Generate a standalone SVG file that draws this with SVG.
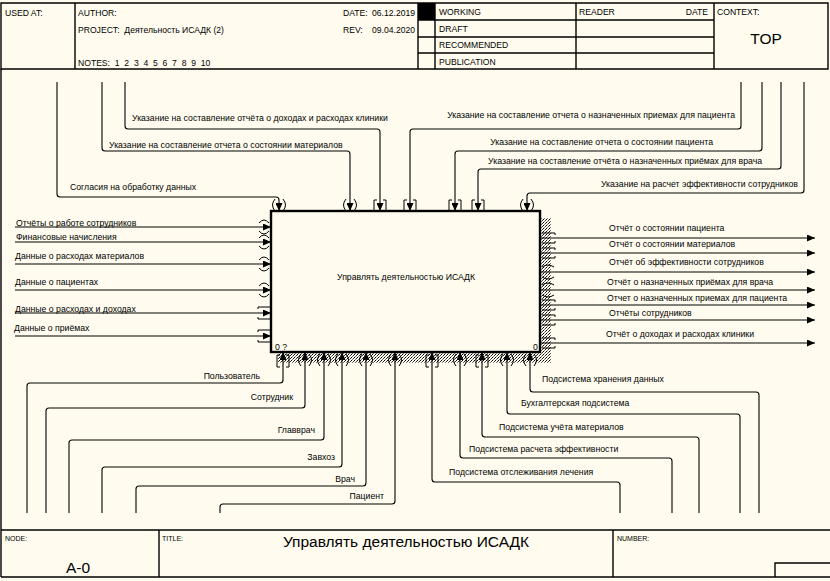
<svg xmlns="http://www.w3.org/2000/svg" width="830" height="581" viewBox="0 0 830 581">
<style>
text{font-family:"Liberation Sans",Arial,sans-serif;fill:#000}
.lbl{font-size:8.7px}
.hd{font-size:8.6px}
.sm{font-size:7px}
.frame{fill:none;stroke:#000;stroke-width:1.4}
.ln{fill:none;stroke:#000;stroke-width:1.1}
.tn{fill:none;stroke:#000;stroke-width:1}
</style>
<defs>
<marker id="ah" viewBox="0 0 8 7" refX="8" refY="3.5" markerWidth="8" markerHeight="7" markerUnits="userSpaceOnUse" orient="auto"><path d="M0,0 L8,3.5 L0,7 z" fill="#000"/></marker>
<pattern id="dots" width="3" height="3" patternUnits="userSpaceOnUse"><rect x="0" y="0" width="1" height="1" fill="#000"/><rect x="2" y="1" width="1" height="1" fill="#333"/><rect x="1" y="2" width="1" height="1" fill="#777"/></pattern>
</defs>
<rect width="830" height="581" fill="#FFFCEF"/>
<g id="header">
<path class="frame" d="M1,3 H828 V69 H1 Z M75,3 V69 M418,3 V69 M435,3 V69 M576,3 V69 M714,3 V69 M418,20 H714 M418,37 H714 M418,53 H714"/>
<rect x="418" y="3" width="17" height="17" fill="#000"/>
<text class="hd" x="5" y="16">USED AT:</text>
<text class="hd" x="78" y="16">AUTHOR:</text>
<text class="hd" x="78" y="33">PROJECT:&#160; Деятельность ИСАДК (2)</text>
<text class="hd" x="78" y="66">NOTES:&#160; 1&#160; 2&#160; 3&#160; 4&#160; 5&#160; 6&#160; 7&#160; 8&#160; 9&#160; 10</text>
<text class="hd" x="343" y="16">DATE:</text>
<text class="hd" x="372" y="16">06.12.2019</text>
<text class="hd" x="343" y="33">REV:</text>
<text class="hd" x="372" y="33">09.04.2020</text>
<text class="hd" x="439" y="15">WORKING</text>
<text class="hd" x="439" y="32">DRAFT</text>
<text class="hd" x="439" y="48">RECOMMENDED</text>
<text class="hd" x="439" y="65">PUBLICATION</text>
<text class="hd" x="579" y="15">READER</text>
<text class="hd" x="708" y="15" text-anchor="end">DATE</text>
<text class="hd" x="717" y="15">CONTEXT:</text>
<text x="766" y="44" font-size="15.5" text-anchor="middle">TOP</text>
</g>
<g id="border">
<path class="frame" d="M1,69 V577"/>
</g>
<g id="footer">
<path class="frame" d="M1,530 H830 M1,577 H830 M159,530 V577 M613,530 V577 M775,577 V563 H830"/>
<text class="sm" x="5" y="541">NODE:</text>
<text class="sm" x="162" y="541">TITLE:</text>
<text class="sm" x="617" y="541">NUMBER:</text>
<text x="406" y="547" font-size="15.5" text-anchor="middle">Управлять деятельностью ИСАДК</text>
<text x="78" y="573" font-size="15.5" text-anchor="middle">A-0</text>
</g>
<g id="node-A0">
<rect x="541" y="218" width="10" height="145" fill="url(#dots)"/>
<rect x="278" y="353" width="273" height="10" fill="url(#dots)"/>
<rect x="271" y="211" width="269" height="141" fill="#FFFCEF" stroke="#000" stroke-width="2.4"/>
<text class="lbl" x="406" y="280" text-anchor="middle">Управлять деятельностью ИСАДК</text>
<text class="lbl" x="275" y="350">0 ?</text>
<text class="lbl" x="533" y="350">0</text>
</g>
<g id="connectors">
<path class="ln" marker-end="url(#ah)" d="M57,82 V194 Q57,197 60,197 H276 Q279,197 279,200 V211"/>
<path class="ln" marker-end="url(#ah)" d="M102,82 V148 Q102,151 105,151 H347 Q350,151 350,154 V211"/>
<path class="ln" marker-end="url(#ah)" d="M125,82 V126 Q125,129 128,129 H377 Q380,129 380,132 V211"/>
<path class="ln" marker-end="url(#ah)" d="M741,82 V126 Q741,129 738,129 H413 Q410,129 410,132 V211"/>
<path class="ln" marker-end="url(#ah)" d="M762,82 V148 Q762,151 759,151 H458 Q455,151 455,154 V211"/>
<path class="ln" marker-end="url(#ah)" d="M781,82 V166 Q781,169 778,169 H481 Q478,169 478,172 V211"/>
<path class="ln" marker-end="url(#ah)" d="M804,82 V190 Q804,193 801,193 H530 Q527,193 527,196 V211"/>
<path class="tn" d="M275,199 Q270,205 275,211 M283,199 Q288,205 283,211 M346,199 Q341,205 346,211 M354,199 Q359,205 354,211 M523,199 Q518,205 523,211 M531,199 Q536,205 531,211"/>
<path class="tn" d="M377,200 H374 V211 H377 M383,200 H386 V211 H383 M407,200 H404 V211 H407 M413,200 H416 V211 H413 M452,200 H449 V211 H452 M458,200 H461 V211 H458 M475,200 H472 V211 H475 M481,200 H484 V211 H481"/>
<text class="lbl" x="70" y="190">Согласия на обработку данных</text>
<text class="lbl" x="109" y="148">Указание на составление отчета о состоянии материалов</text>
<text class="lbl" x="132" y="121">Указание на составление отчёта о доходах и расходах клиники</text>
<text class="lbl" x="735" y="118" text-anchor="end">Указание на составление отчета о назначенных приемах для пациента</text>
<text class="lbl" x="713" y="145" text-anchor="end">Указание на составление отчета о состоянии пациента</text>
<text class="lbl" x="762" y="164" text-anchor="end">Указание на составление отчёта о назначенных приёмах для врача</text>
<text class="lbl" x="798" y="187" text-anchor="end">Указание на расчет эффективности сотрудников</text>
<path class="ln" marker-end="url(#ah)" d="M15,227 H271"/>
<path class="ln" marker-end="url(#ah)" d="M15,242 H271"/>
<path class="ln" marker-end="url(#ah)" d="M15,264 H271"/>
<path class="ln" marker-end="url(#ah)" d="M15,290 H271"/>
<path class="ln" marker-end="url(#ah)" d="M15,313 H271"/>
<path class="ln" marker-end="url(#ah)" d="M15,336 H271"/>
<path class="tn" d="M259,223 Q264,217 269,223 M259,231 Q264,237 269,231 M259,238 Q264,232 269,238 M259,246 Q264,252 269,246 M259,260 Q264,254 269,260 M259,268 Q264,274 269,268 M259,286 Q264,280 269,286 M259,294 Q264,300 269,294"/>
<path class="tn" d="M270,307 H258 V309 M270,319 H258 V317 M270,330 H258 V332 M270,342 H258 V340"/>
<text class="lbl" x="16" y="226">Отчёты о работе сотрудников</text>
<text class="lbl" x="16" y="240">Финансовые начисления</text>
<text class="lbl" x="15" y="259">Данные о расходах материалов</text>
<text class="lbl" x="15" y="285">Данные о пациентах</text>
<text class="lbl" x="15" y="312">Данные о расходах и доходах</text>
<text class="lbl" x="14" y="331">Данные о приёмах</text>
<path class="ln" marker-end="url(#ah)" d="M540,238 H815"/>
<path class="ln" marker-end="url(#ah)" d="M540,253 H815"/>
<path class="ln" marker-end="url(#ah)" d="M540,272 H815"/>
<path class="ln" marker-end="url(#ah)" d="M540,290 H815"/>
<path class="ln" marker-end="url(#ah)" d="M540,305 H815"/>
<path class="ln" marker-end="url(#ah)" d="M540,320 H815"/>
<path class="ln" marker-end="url(#ah)" d="M540,343 H815"/>
<path class="tn" d="M542,233 H555 V235 M542,243 H555 V241 M542,248 H555 V250 M542,258 H555 V256 M542,267 Q548,263 554,267 M542,277 Q548,281 554,277 M542,285 Q548,281 554,285 M542,295 Q548,299 554,295 M542,300 H555 V302 M542,310 H555 V308 M542,315 H555 V317 M542,325 H555 V323 M542,338 H555 V340 M542,348 H555 V346"/>
<text class="lbl" x="609" y="231">Отчёт о состоянии пациента</text>
<text class="lbl" x="609" y="247">Отчёт о состоянии материалов</text>
<text class="lbl" x="609" y="265">Отчёт об эффективности сотрудников</text>
<text class="lbl" x="607" y="285">Отчёт о назначенных приёмах для врача</text>
<text class="lbl" x="607" y="301">Отчет о назначенных приемах для пациента</text>
<text class="lbl" x="609" y="316">Отчёты сотрудников</text>
<text class="lbl" x="606" y="337">Отчёт о доходах и расходах клиники</text>
<path class="ln" marker-end="url(#ah)" d="M27,513 V386 Q27,383 30,383 H280 Q283,383 283,380 V352"/>
<path class="ln" marker-end="url(#ah)" d="M46,513 V411 Q46,408 49,408 H302 Q305,408 305,405 V352"/>
<path class="ln" marker-end="url(#ah)" d="M69,513 V443 Q69,440 72,440 H321 Q324,440 324,437 V352"/>
<path class="ln" marker-end="url(#ah)" d="M102,513 V470 Q102,467 105,467 H339 Q342,467 342,464 V352"/>
<path class="ln" marker-end="url(#ah)" d="M136,513 V489 Q136,486 139,486 H363 Q366,486 366,483 V352"/>
<path class="ln" marker-end="url(#ah)" d="M220,513 V507 Q220,504 223,504 H392 Q395,504 395,501 V352"/>
<path class="ln" marker-end="url(#ah)" d="M759,513 V395 Q759,392 756,392 H533 Q530,392 530,389 V352"/>
<path class="ln" marker-end="url(#ah)" d="M740,513 V417 Q740,414 737,414 H510 Q507,414 507,411 V352"/>
<path class="ln" marker-end="url(#ah)" d="M699,513 V440 Q699,437 696,437 H485 Q482,437 482,434 V352"/>
<path class="ln" marker-end="url(#ah)" d="M672,513 V461 Q672,458 669,458 H463 Q460,458 460,455 V352"/>
<path class="ln" marker-end="url(#ah)" d="M620,513 V485 Q620,482 617,482 H435 Q432,482 432,479 V352"/>
<path class="tn" d="M301,354 Q296,360 301,366 M309,354 Q314,360 309,366 M320,354 Q315,360 320,366 M328,354 Q333,360 328,366 M338,354 Q333,360 338,366 M346,354 Q351,360 346,366 M362,354 Q357,360 362,366 M370,354 Q375,360 370,366 M391,354 Q386,360 391,366 M399,354 Q404,360 399,366 M456,354 Q451,360 456,366 M464,354 Q469,360 464,366 M503,354 Q498,360 503,366 M511,354 Q516,360 511,366 M526,354 Q521,360 526,366 M534,354 Q539,360 534,366"/>
<path class="tn" d="M280,355 H277 V367 H280 M286,355 H289 V367 H286 M429,355 H426 V367 H429 M435,355 H438 V367 H435 M479,355 H476 V367 H479 M485,355 H488 V367 H485"/>
<text class="lbl" x="260" y="379" text-anchor="end">Пользователь</text>
<text class="lbl" x="293" y="400" text-anchor="end">Сотрудник</text>
<text class="lbl" x="315" y="433" text-anchor="end">Главврач</text>
<text class="lbl" x="335" y="460" text-anchor="end">Завхоз</text>
<text class="lbl" x="355" y="482" text-anchor="end">Врач</text>
<text class="lbl" x="384" y="499" text-anchor="end">Пациент</text>
<text class="lbl" x="542" y="382">Подсистема хранения данных</text>
<text class="lbl" x="521" y="406">Бухгалтерская подсистема</text>
<text class="lbl" x="499" y="430">Подсистема учёта материалов</text>
<text class="lbl" x="469" y="452">Подсистема расчета эффективности</text>
<text class="lbl" x="449" y="475">Подсистема отслеживания лечения</text>
</g>
</svg>
